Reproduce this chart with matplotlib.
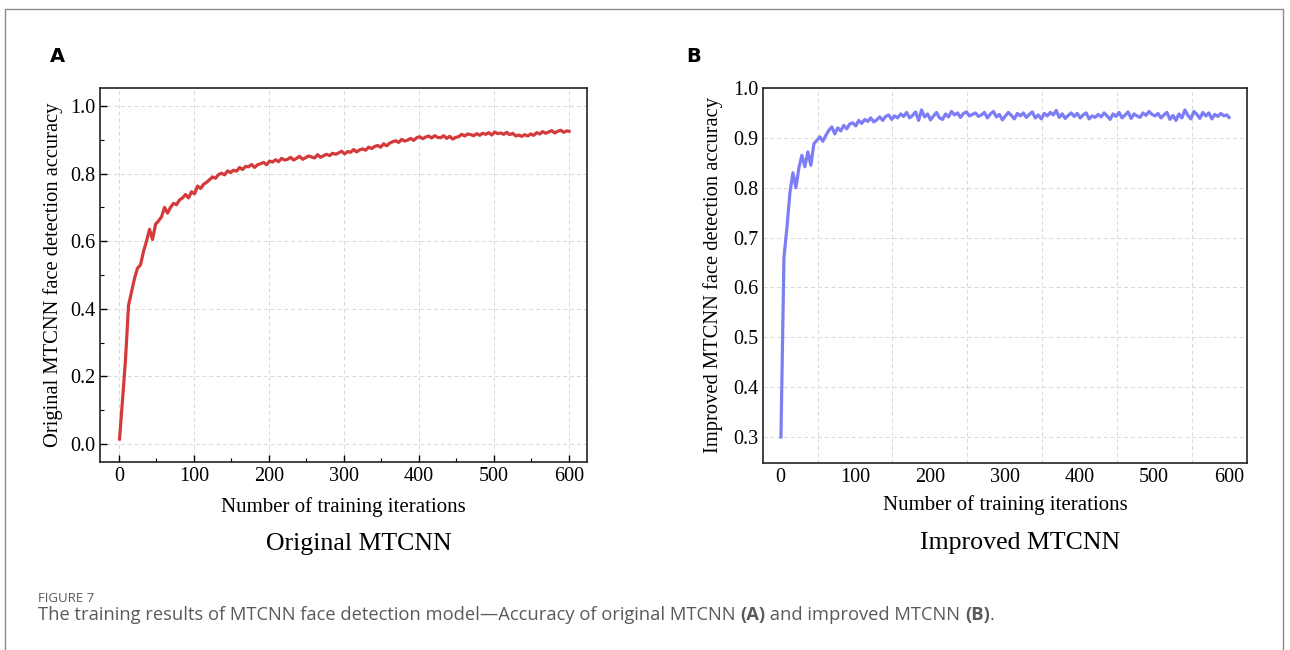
#!/usr/bin/env python3
# MTCNN training accuracy - original vs improved

import matplotlib
matplotlib.use("Agg")
import matplotlib.pyplot as plt
from matplotlib.ticker import MultipleLocator
from matplotlib.patches import Rectangle

# training iterations (x) shared by both curves
iterations = list(range(1, 600, 4)) + [600]

# Original MTCNN accuracy
acc_original = [
    0.015, 0.13, 0.25, 0.41, 0.45, 0.49, 0.52, 0.53, 0.57, 0.60,
    0.635, 0.605, 0.65, 0.66, 0.672, 0.70, 0.683, 0.70, 0.712, 0.708,
    0.722, 0.728, 0.738, 0.728, 0.746, 0.74, 0.763, 0.756, 0.768, 0.774,
    0.782, 0.79, 0.786, 0.797, 0.801, 0.796, 0.808, 0.803, 0.81, 0.807,
    0.818, 0.812, 0.821, 0.82, 0.827, 0.818, 0.826, 0.829, 0.833, 0.826,
    0.837, 0.834, 0.841, 0.835, 0.845, 0.84, 0.842, 0.848, 0.84, 0.845,
    0.851, 0.842, 0.847, 0.852, 0.849, 0.846, 0.856, 0.848, 0.853, 0.857,
    0.853, 0.86, 0.857, 0.861, 0.866, 0.858, 0.865, 0.863, 0.871, 0.864,
    0.87, 0.873, 0.869, 0.878, 0.874, 0.88, 0.883, 0.878, 0.888, 0.882,
    0.89, 0.894, 0.897, 0.892, 0.901, 0.896, 0.899, 0.904, 0.898, 0.906,
    0.909, 0.903, 0.908, 0.911, 0.905, 0.912, 0.907, 0.906, 0.912, 0.904,
    0.91, 0.902, 0.907, 0.909, 0.916, 0.911, 0.917, 0.915, 0.912, 0.918,
    0.913, 0.919, 0.916, 0.921, 0.914, 0.923, 0.918, 0.92, 0.916, 0.922,
    0.915, 0.919, 0.911, 0.914, 0.91, 0.915, 0.911, 0.917, 0.913, 0.921,
    0.917, 0.924, 0.919, 0.923, 0.927, 0.92, 0.925, 0.928, 0.922, 0.926,
    0.925,
]

# Improved MTCNN accuracy
acc_improved = [
    0.30, 0.66, 0.72, 0.79, 0.83, 0.80, 0.84, 0.865, 0.842, 0.872,
    0.845, 0.888, 0.895, 0.902, 0.893, 0.905, 0.915, 0.922, 0.908, 0.92,
    0.914, 0.925, 0.918, 0.928, 0.93, 0.924, 0.935, 0.929, 0.937, 0.933,
    0.94, 0.932, 0.936, 0.942, 0.935, 0.943, 0.946, 0.937, 0.944, 0.94,
    0.948, 0.943, 0.951, 0.94, 0.945, 0.952, 0.935, 0.956, 0.942, 0.948,
    0.936, 0.944, 0.951, 0.94, 0.937, 0.948, 0.942, 0.953, 0.946, 0.95,
    0.941, 0.949, 0.952, 0.944, 0.947, 0.95, 0.943, 0.946, 0.951, 0.94,
    0.948, 0.953, 0.942, 0.947, 0.936, 0.944, 0.951, 0.945, 0.938, 0.949,
    0.944, 0.95, 0.941, 0.947, 0.952, 0.94, 0.946, 0.938, 0.949, 0.944,
    0.951, 0.946, 0.955, 0.941, 0.948, 0.939, 0.945, 0.95, 0.943, 0.949,
    0.94, 0.946, 0.95, 0.938, 0.944, 0.941, 0.947, 0.942, 0.95, 0.944,
    0.937, 0.948, 0.943, 0.951, 0.94, 0.946, 0.952, 0.939, 0.948, 0.944,
    0.941, 0.95, 0.945, 0.953, 0.947, 0.944, 0.949, 0.94, 0.946, 0.951,
    0.937, 0.945, 0.935, 0.948, 0.94, 0.956, 0.945, 0.938, 0.953, 0.947,
    0.939, 0.951, 0.944, 0.95, 0.938, 0.947, 0.943, 0.949, 0.944, 0.946,
    0.941,
]

x_ticks = [0, 100, 200, 300, 400, 500, 600]
y_ticks_a = [0.0, 0.2, 0.4, 0.6, 0.8, 1.0]
y_ticks_b = [0.3, 0.4, 0.5, 0.6, 0.7, 0.8, 0.9, 1.0]

plt.rcParams['font.family'] = ['Liberation Serif', 'DejaVu Serif']

fig = plt.figure(figsize=(12.9, 6.5), dpi=100)

# outer figure frame (runs off the bottom edge)
frame = Rectangle((5 / 1290, -0.05), 1278 / 1290, 1.05 - 9 / 650,
                  transform=fig.transFigure, fill=False,
                  edgecolor='#8a8a8a', linewidth=1.0)
fig.patches.append(frame)

grid_kw = dict(color='#d8d8d8', linestyle=(0, (4, 3)), linewidth=0.7)

# ---- panel A ----
ax1 = fig.add_axes([100 / 1290, 188 / 650, 487 / 1290, 374 / 650])
ax1.plot(iterations, acc_original, color='#d43a3a', linewidth=2.3)
ax1.set_xlim(-25, 624)
ax1.set_ylim(-0.053, 1.053)
ax1.set_xticks(x_ticks)
ax1.set_yticks(y_ticks_a)
ax1.xaxis.set_minor_locator(MultipleLocator(50))
ax1.yaxis.set_minor_locator(MultipleLocator(0.1))
ax1.tick_params(which='both', direction='in', labelsize=14.5, top=False, right=False)
ax1.tick_params(which='major', length=5, width=1)
ax1.tick_params(which='minor', length=3, width=0.8)
ax1.grid(True, which='major', **grid_kw)
ax1.set_xlabel('Number of training iterations', fontsize=15, labelpad=8)
ax1.set_ylabel('Original MTCNN face detection accuracy', fontsize=14.8, labelpad=5)

# ---- panel B ----
ax2 = fig.add_axes([763 / 1290, 187 / 650, 484 / 1290, 375 / 650])
ax2.plot(iterations, acc_improved, color='#7d7df5', linewidth=2.3)
ax2.set_xlim(-23, 624)
ax2.set_ylim(0.248, 1.0)
ax2.set_xticks(x_ticks)
ax2.set_yticks(y_ticks_b)
ax2.xaxis.set_minor_locator(MultipleLocator(50))
ax2.tick_params(which='both', length=0, labelsize=14.5)
ax2.grid(True, which='minor', axis='x', **grid_kw)
ax2.grid(True, which='major', axis='y', **grid_kw)
ax2.set_xlabel('Number of training iterations', fontsize=15, labelpad=6)
ax2.set_ylabel('Improved MTCNN face detection accuracy', fontsize=14.8, labelpad=7)

for ax in (ax1, ax2):
    for s in ax.spines.values():
        s.set_linewidth(1.2)
        s.set_color('#222222')

# panel letters and subtitles
fig.text(57 / 1290, 1 - 57 / 650, 'A', family='DejaVu Sans', fontweight='bold',
         fontsize=14, ha='center', va='center')
fig.text(694 / 1290, 1 - 57 / 650, 'B', family='DejaVu Sans', fontweight='bold',
         fontsize=14, ha='center', va='center')
fig.text(359 / 1290, 1 - 544 / 650, 'Original MTCNN', fontsize=18.6,
         ha='center', va='center')
fig.text(1020 / 1290, 1 - 543 / 650, 'Improved MTCNN', fontsize=18.6,
         ha='center', va='center')

# caption, pieces chained so the bold (A)/(B) sit inline
cap_kw = dict(family=['Open Sans', 'DejaVu Sans'], color='#5a5a5a')
fig.text(38 / 1290, 1 - 599 / 650, 'FIGURE 7', fontsize=9.5, va='center', **cap_kw)
parts = [
    ('The training results of MTCNN face detection model\u2014Accuracy of original MTCNN ', 'normal'),
    ('(A)', 'bold'),
    (' and improved MTCNN ', 'normal'),
    ('(B)', 'bold'),
    ('.', 'normal'),
]
prev = fig.text(38 / 1290, 1 - 615 / 650, parts[0][0], fontsize=13.2,
                va='center', **cap_kw)
for txt, wt in parts[1:]:
    prev = fig.add_artist(plt.Annotation(txt, xy=(1, 0.5), xycoords=prev,
                                         va='center', ha='left', fontsize=13.2,
                                         fontweight=wt, annotation_clip=False,
                                         **cap_kw))

fig.savefig('out.png', dpi=100)
